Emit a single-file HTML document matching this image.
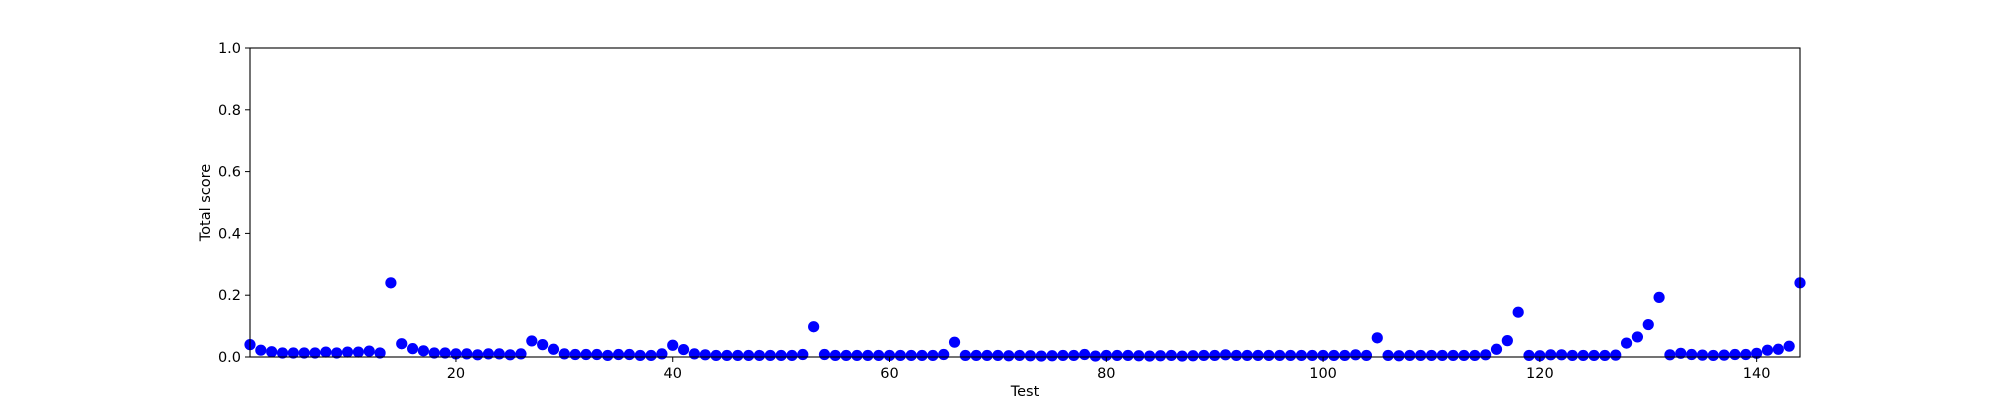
<!DOCTYPE html>
<html><head><meta charset="utf-8"><style>
body{margin:0;background:#fff;}
svg{display:block;font-family:"DejaVu Sans","Liberation Sans",sans-serif;}
</style></head><body>
<svg id="chart" width="2000" height="400" viewBox="0 0 2000 400">
<rect width="2000" height="400" fill="#fff"/>
<g id="marks"></g>
<g id="axes"></g>
</svg>
<script>
const xTicks = [20, 40, 60, 80, 100, 120, 140];
const yTicks = [0.0, 0.2, 0.4, 0.6, 0.8, 1.0];
const yTickLabels = ["0.0", "0.2", "0.4", "0.6", "0.8", "1.0"];
const scores = [
0.04,0.022,0.017,0.013,0.013,0.013,0.013,0.016,0.013,0.016,
0.016,0.019,0.013,0.24,0.043,0.027,0.02,0.013,0.013,0.01,
0.01,0.007,0.01,0.01,0.007,0.01,0.052,0.04,0.025,0.01,
0.008,0.008,0.008,0.005,0.008,0.008,0.005,0.005,0.01,0.038,
0.024,0.01,0.007,0.005,0.005,0.005,0.005,0.005,0.005,0.005,
0.005,0.008,0.098,0.008,0.005,0.005,0.005,0.005,0.005,0.005,
0.005,0.005,0.005,0.005,0.008,0.048,0.005,0.005,0.005,0.005,
0.004,0.005,0.004,0.003,0.004,0.005,0.005,0.008,0.003,0.005,
0.005,0.005,0.004,0.003,0.004,0.005,0.003,0.004,0.005,0.005,
0.007,0.005,0.005,0.005,0.005,0.005,0.005,0.005,0.005,0.005,
0.005,0.005,0.007,0.005,0.062,0.005,0.004,0.005,0.005,0.005,
0.005,0.005,0.005,0.005,0.007,0.025,0.053,0.145,0.005,0.004,
0.007,0.007,0.005,0.005,0.005,0.005,0.006,0.045,0.065,0.105,
0.193,0.007,0.012,0.008,0.006,0.005,0.006,0.008,0.008,0.012,
0.022,0.025,0.035,0.24];
const L=250,R=1800,T=48,B=357;
const xMin=1,xMax=144;
function xs(v){return L+(v-xMin)/(xMax-xMin)*(R-L);}
function ys(v){return B-v*(B-T);}
const NS="http://www.w3.org/2000/svg";
function mk(tag,attrs,parent){const e=document.createElementNS(NS,tag);for(const k in attrs)e.setAttribute(k,attrs[k]);parent.appendChild(e);return e;}
const marks=document.getElementById('marks');
const axes=document.getElementById('axes');
scores.forEach((v,i)=>{
  const c=mk('circle',{cx:xs(i+1),cy:ys(v),r:5.6,fill:'#0000ff'},marks);
  
  
});
const frame=mk('rect',{x:L,y:T,width:R-L,height:B-T,fill:'none',stroke:'#000','stroke-width':1.1},axes);


xTicks.forEach(t=>{
  const x=xs(t);
  mk('line',{x1:x,x2:x,y1:B,y2:B+5,stroke:'#000'},axes);
  const tx=mk('text',{x:x,y:B+21,'text-anchor':'middle','font-size':14.5,fill:'#000'},axes);
  tx.textContent=t;
  
  
});
yTicks.forEach((t,i)=>{
  const y=ys(t);
  mk('line',{x1:L-5,x2:L,y1:y,y2:y,stroke:'#000'},axes);
  const tx=mk('text',{x:L-9,y:y+5,'text-anchor':'end','font-size':14.5,fill:'#000'},axes);
  tx.textContent=yTickLabels[i];
  
  
});
const xt=mk('text',{x:(L+R)/2,y:B+39,'text-anchor':'middle','font-size':14.5,fill:'#000'},axes);
xt.textContent='Test';


const yt=mk('text',{x:0,y:0,'text-anchor':'middle','font-size':14.5,fill:'#000',transform:'translate(210,'+((T+B)/2)+') rotate(-90)'},axes);
yt.textContent='Total score';


</script>
</body></html>
